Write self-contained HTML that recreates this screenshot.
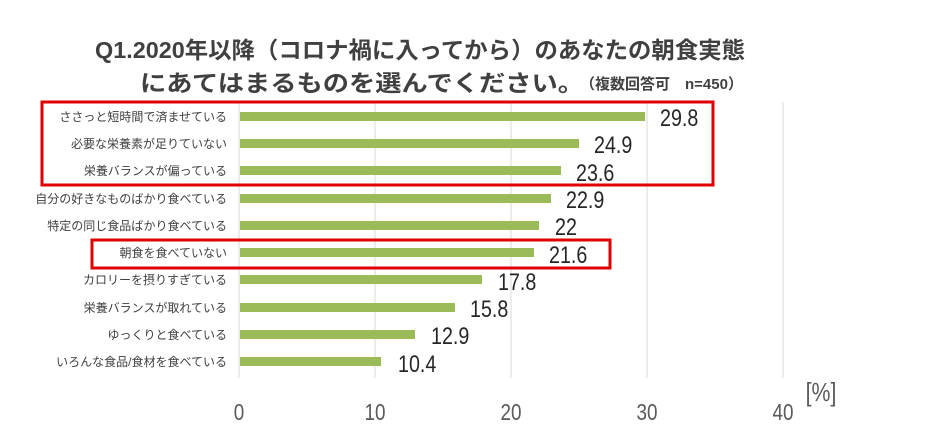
<!DOCTYPE html>
<html><head><meta charset="utf-8"><style>
html,body{margin:0;padding:0;background:#fff;}
svg{display:block;}
</style></head><body>
<svg width="940" height="441" viewBox="0 0 940 441" xmlns="http://www.w3.org/2000/svg">
<g fill="#404040" font-weight="bold" font-family="Liberation Sans,Noto Sans CJK JP,sans-serif">
<text x="95" y="58" font-size="23" textLength="650" lengthAdjust="spacingAndGlyphs">Q1.2020年以降（コロナ禍に入ってから）のあなたの朝食実態</text>
<text x="140" y="91" font-size="23" textLength="444" lengthAdjust="spacingAndGlyphs">にあてはまるものを選んでください。</text>
<text x="580" y="89" font-size="15">（複数回答可　n=450）</text>
</g>
<g stroke="#d9d9d9" stroke-width="1">
<line x1="375" y1="102" x2="375" y2="378"/>
<line x1="511" y1="102" x2="511" y2="378"/>
<line x1="647" y1="102" x2="647" y2="378"/>
<line x1="783" y1="102" x2="783" y2="378"/>
<line x1="239" y1="102" x2="239" y2="378"/>
</g>
<g fill="#9bbb59">
<rect x="240" y="112" width="405" height="9"/>
<rect x="240" y="139" width="339" height="9"/>
<rect x="240" y="166" width="321" height="9"/>
<rect x="240" y="194" width="311" height="9"/>
<rect x="240" y="221" width="299" height="9"/>
<rect x="240" y="248" width="294" height="9"/>
<rect x="240" y="275" width="242" height="9"/>
<rect x="240" y="303" width="215" height="9"/>
<rect x="240" y="330" width="175" height="9"/>
<rect x="240" y="357" width="141" height="9"/>
</g>
<g font-family="Liberation Sans,Noto Sans CJK JP,sans-serif" font-size="12" fill="#404040" text-anchor="end">
<text x="227" y="121">ささっと短時間で済ませている</text>
<text x="227" y="148">必要な栄養素が足りていない</text>
<text x="227" y="175">栄養バランスが偏っている</text>
<text x="227" y="203">自分の好きなものばかり食べている</text>
<text x="227" y="230">特定の同じ食品ばかり食べている</text>
<text x="227" y="257">朝食を食べていない</text>
<text x="227" y="284">カロリーを摂りすぎている</text>
<text x="227" y="312">栄養バランスが取れている</text>
<text x="227" y="339">ゆっくりと食べている</text>
<text x="227" y="366">いろんな食品/食材を食べている</text>
</g>
<g font-family="Liberation Sans,sans-serif" font-size="24" fill="#262626">
<text transform="translate(660,126) scale(0.82,1)">29.8</text>
<text transform="translate(594,153) scale(0.82,1)">24.9</text>
<text transform="translate(576,181) scale(0.82,1)">23.6</text>
<text transform="translate(566,208) scale(0.82,1)">22.9</text>
<text transform="translate(555,235) scale(0.82,1)">22</text>
<text transform="translate(549,263) scale(0.82,1)">21.6</text>
<text transform="translate(498,290) scale(0.82,1)">17.8</text>
<text transform="translate(470,317) scale(0.82,1)">15.8</text>
<text transform="translate(431,344) scale(0.82,1)">12.9</text>
<text transform="translate(398,372) scale(0.82,1)">10.4</text>
</g>
<g fill="none" stroke="#e00000" stroke-width="3">
<rect x="42" y="102" width="671" height="83"/>
<rect x="92" y="240" width="518" height="28"/>
</g>
<g font-family="Liberation Sans,sans-serif" font-size="23" fill="#595959" text-anchor="middle">
<text transform="translate(239,420) scale(0.82,1)">0</text>
<text transform="translate(375,420) scale(0.82,1)">10</text>
<text transform="translate(511,420) scale(0.82,1)">20</text>
<text transform="translate(647,420) scale(0.82,1)">30</text>
<text transform="translate(783,420) scale(0.82,1)">40</text>
<text transform="translate(821,401) scale(0.82,1)" font-size="26">[%]</text>
</g>
</svg>
</body></html>
